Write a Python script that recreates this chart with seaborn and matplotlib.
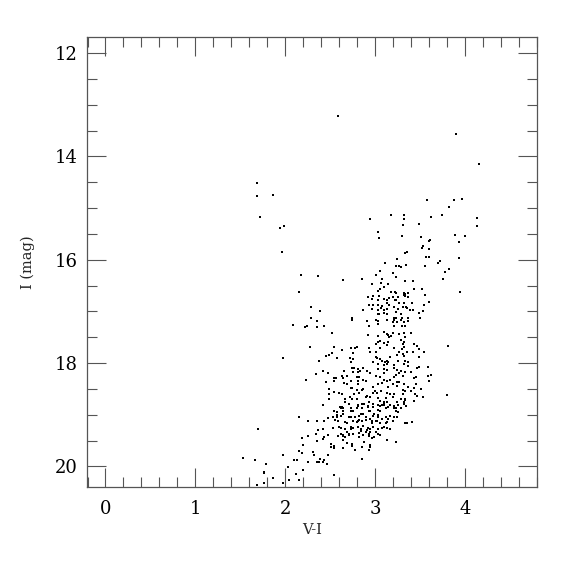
import matplotlib
matplotlib.use("Agg")
import matplotlib.pyplot as plt
from matplotlib.ticker import MultipleLocator
import numpy as np
import pandas as pd
import seaborn as sns

# Sparse stars: bright / blue side
vi_sparse = [2.59, 3.90, 4.16, 3.58, 3.88, 3.97, 3.83, 2.95, 3.18, 3.32, 3.32, 3.31, 3.49, 3.62, 3.75, 4.14, 4.14,
             1.69, 1.69, 1.87, 1.72, 1.94, 1.99,
             1.96, 2.18, 2.37, 2.64, 2.15, 2.29, 2.39, 2.29, 2.75]
i_sparse = [13.21, 13.56, 14.15, 14.84, 14.85, 14.83, 14.98, 15.21, 15.13, 15.13, 15.21, 15.33, 15.31, 15.18, 15.14, 15.19, 15.35,
            14.52, 14.77, 14.75, 15.17, 15.38, 15.35,
            15.85, 16.29, 16.31, 16.40, 16.62, 16.92, 17.00, 17.13, 17.13]

# Upper giant branch
vi_upper = [3.04, 3.05, 3.30, 3.51, 3.89, 4.00, 3.61, 3.60, 3.53, 3.52, 3.94, 3.60, 3.33, 3.36, 3.57, 3.60, 3.94, 3.25,
            3.11, 3.72, 3.70, 3.23, 3.27, 3.29, 3.35, 3.56, 3.06, 3.20, 3.83, 3.78, 3.01, 3.24, 2.86, 3.08, 3.33, 3.42,
            3.76, 2.97, 3.07, 3.10, 3.15, 3.06, 3.43, 3.52, 3.95, 3.03, 3.18, 3.22, 3.24, 3.32, 3.34, 3.37, 2.92, 2.98,
            3.05, 3.56, 3.20, 3.26, 3.32, 3.34, 3.37, 2.97, 3.04, 3.10, 3.13, 3.16, 3.22, 3.24, 3.13, 3.27, 3.32, 3.41,
            3.60, 2.93, 2.98, 3.03, 3.08, 3.16, 3.21, 3.31, 3.35, 3.55, 2.87, 2.97, 3.03, 3.07, 3.10, 3.14, 3.26, 3.36,
            3.39, 3.42, 3.53, 3.03, 3.05, 3.10, 3.14, 3.24, 3.29, 3.49, 3.21, 3.24, 3.30, 3.37, 3.50]
i_upper = [15.46, 15.58, 15.55, 15.57, 15.53, 15.55, 15.62, 15.63, 15.73, 15.77, 15.66, 15.79, 15.87, 15.85, 15.94, 15.94, 15.96, 15.98,
           16.06, 16.02, 16.06, 16.12, 16.13, 16.15, 16.10, 16.13, 16.21, 16.25, 16.19, 16.23, 16.29, 16.33, 16.37, 16.37, 16.41, 16.42,
           16.38, 16.48, 16.46, 16.52, 16.48, 16.56, 16.56, 16.56, 16.62, 16.60, 16.63, 16.63, 16.65, 16.65, 16.67, 16.65, 16.73, 16.71,
           16.71, 16.69, 16.73, 16.73, 16.69, 16.71, 16.73, 16.77, 16.79, 16.77, 16.79, 16.75, 16.79, 16.79, 16.83, 16.83, 16.83, 16.83,
           16.81, 16.88, 16.87, 16.88, 16.90, 16.88, 16.92, 16.92, 16.92, 16.88, 16.98, 16.96, 16.98, 16.94, 16.98, 16.96, 16.96, 16.94,
           16.98, 16.98, 17.00, 17.06, 17.06, 17.04, 17.06, 17.02, 17.06, 17.04, 17.13, 17.12, 17.13, 17.12, 17.13]

# Middle, left part
vi_midleft = [2.35, 2.75, 2.09, 2.22, 2.24, 2.36, 2.43, 2.52, 2.28, 2.54, 2.63, 2.73, 2.78, 2.80, 2.52, 2.49, 2.46, 2.76,
              1.98, 2.58, 2.72, 2.76, 2.38, 2.73, 2.75, 2.77, 2.81, 2.83, 2.42, 2.48, 2.66, 2.76, 2.81, 2.34, 2.54, 2.57,
              2.63, 2.65, 2.69, 2.80, 2.82, 2.23, 2.46, 2.54, 2.66, 2.73, 2.81, 2.69, 2.81, 2.73, 2.75, 2.49, 2.80, 2.55,
              2.60, 2.63, 2.49, 2.72, 2.77, 2.82, 2.49, 2.67, 2.67, 2.74, 2.80, 2.81, 2.42, 2.62, 2.64, 2.73, 2.80]
i_midleft = [17.19, 17.17, 17.27, 17.31, 17.29, 17.31, 17.29, 17.42, 17.69, 17.69, 17.75, 17.71, 17.71, 17.69, 17.81, 17.85, 17.87, 17.81,
             17.90, 17.90, 17.90, 17.92, 17.96, 17.98, 18.10, 18.10, 18.12, 18.15, 18.15, 18.19, 18.15, 18.17, 18.17, 18.21, 18.29, 18.29,
             18.25, 18.29, 18.25, 18.27, 18.27, 18.33, 18.37, 18.35, 18.38, 18.35, 18.35, 18.40, 18.40, 18.48, 18.48, 18.50, 18.52, 18.56,
             18.58, 18.60, 18.60, 18.65, 18.60, 18.58, 18.69, 18.69, 18.75, 18.69, 18.69, 18.81, 18.81, 18.87, 18.87, 18.87, 18.87]

# Middle, right part
vi_midright = [2.91, 3.01, 3.04, 3.03, 3.14, 3.20, 3.21, 3.25, 3.29, 3.32, 3.37, 3.30, 3.33, 3.21, 2.93, 2.92, 3.10, 3.14,
               3.15, 3.18, 3.20, 3.27, 3.32, 3.40, 3.03, 3.16, 3.29, 3.34, 3.03, 3.06, 3.10, 3.15, 3.31, 3.32, 3.01, 3.14,
               3.43, 3.47, 3.81, 2.93, 3.06, 3.21, 3.30, 3.32, 3.49, 2.95, 3.01, 3.27, 3.31, 3.36, 3.42, 3.55, 3.25, 3.01,
               3.02, 3.06, 3.17, 3.32, 3.49, 2.98, 3.08, 3.11, 3.14, 3.15, 3.26, 3.34, 3.37, 3.04, 3.10, 3.14, 3.21, 3.32,
               3.37, 3.59, 3.47, 3.49, 2.87, 2.91, 3.03, 3.10, 3.13, 3.21, 3.25, 3.29, 2.95, 3.10, 3.27, 3.34, 3.40, 3.62,
               3.59, 3.01, 3.06, 3.21, 3.23, 3.31, 3.43, 3.46, 2.87, 2.90, 3.10, 3.13, 3.17, 3.25, 3.60, 3.04, 3.08, 3.20,
               3.27, 3.32, 3.46, 2.98, 3.15, 3.25, 3.37, 3.43, 3.51, 2.86, 2.87, 3.00, 3.07, 3.31, 3.34, 3.40, 2.98, 3.02,
               3.14, 3.21, 3.31, 3.45, 3.80, 3.47, 3.53, 2.90, 2.95, 3.03, 3.12, 3.20, 3.29, 3.34, 3.44, 2.93, 3.06, 3.10,
               3.14, 3.25, 3.32, 2.86, 2.98, 3.04, 3.08, 3.17, 3.21, 3.26, 3.35, 2.92, 3.15, 3.23, 3.29, 3.12]
i_midright = [17.19, 17.17, 17.19, 17.25, 17.17, 17.21, 17.17, 17.21, 17.17, 17.21, 17.19, 17.29, 17.29, 17.29, 17.29, 17.46, 17.40, 17.44,
              17.46, 17.48, 17.42, 17.44, 17.42, 17.42, 17.48, 17.50, 17.56, 17.50, 17.60, 17.58, 17.62, 17.60, 17.63, 17.60, 17.63, 17.65,
              17.63, 17.67, 17.67, 17.71, 17.71, 17.71, 17.73, 17.69, 17.73, 17.79, 17.79, 17.79, 17.83, 17.79, 17.79, 17.79, 17.85, 17.88,
              17.90, 17.92, 17.88, 17.87, 17.88, 17.98, 17.96, 17.98, 17.96, 17.98, 17.96, 17.96, 17.98, 18.02, 18.04, 18.02, 18.04, 18.02,
              18.06, 18.08, 18.10, 18.08, 18.10, 18.15, 18.12, 18.12, 18.13, 18.10, 18.13, 18.15, 18.19, 18.19, 18.19, 18.17, 18.17, 18.23,
              18.25, 18.25, 18.27, 18.27, 18.23, 18.25, 18.29, 18.27, 18.33, 18.35, 18.33, 18.35, 18.33, 18.37, 18.35, 18.40, 18.38, 18.40,
              18.37, 18.40, 18.40, 18.46, 18.46, 18.44, 18.46, 18.48, 18.50, 18.52, 18.50, 18.54, 18.54, 18.52, 18.54, 18.54, 18.58, 18.58,
              18.58, 18.60, 18.60, 18.60, 18.62, 18.63, 18.65, 18.65, 18.65, 18.67, 18.67, 18.65, 18.69, 18.69, 18.73, 18.75, 18.73, 18.75,
              18.75, 18.75, 18.75, 18.79, 18.79, 18.81, 18.81, 18.81, 18.83, 18.81, 18.83, 18.85, 18.85, 18.87, 18.87, 18.88]

# Dense clump near the base of the branch
vi_clump = [2.65, 2.80, 2.93, 3.06, 3.21, 2.58, 2.71, 2.84, 2.99, 3.04, 3.12, 3.25, 2.56, 2.69, 2.80, 2.90, 2.97, 3.01,
            3.14, 3.34, 2.60, 2.73, 2.84, 2.91, 2.95, 3.10, 3.17, 2.62, 2.71, 2.82, 2.93, 2.99, 3.06, 2.64, 2.75, 2.88,
            2.95, 3.14, 2.71, 2.88, 3.10, 3.34, 2.67, 2.91, 3.17]
i_clump = [18.92, 18.88, 18.92, 18.92, 18.88, 19.01, 19.04, 18.98, 18.98, 19.00, 19.04, 19.04, 19.11, 19.17, 19.14, 19.11, 19.17, 19.13,
           19.14, 19.17, 19.24, 19.24, 19.27, 19.30, 19.27, 19.24, 19.27, 19.37, 19.40, 19.43, 19.37, 19.43, 19.40, 19.49, 19.56, 19.53,
           19.59, 19.49, 18.79, 18.79, 18.77, 18.72, 18.69, 18.63, 18.60]

# Lower, left part
vi_lowleft = [2.42, 2.61, 2.63, 2.73, 2.81, 2.54, 2.58, 2.73, 2.76, 2.62, 2.65, 2.73, 2.78, 2.82, 2.48, 2.53, 2.58, 2.16,
              2.25, 2.36, 2.43, 2.59, 2.67, 2.76, 2.81, 2.82, 1.70, 2.42, 2.53, 2.62, 2.67, 2.73, 2.76, 2.81, 2.37, 2.34,
              2.69, 2.71, 2.76, 2.82, 2.26, 2.48, 2.59, 2.64, 2.65, 2.67, 2.43, 2.19, 2.36, 2.42, 2.51, 2.54, 2.69, 2.75,
              2.20, 2.78, 2.64, 2.51, 2.54, 2.16, 2.19, 2.31, 2.32, 2.48, 1.98, 2.39, 2.43, 2.10, 2.13, 2.36, 2.38, 2.42,
              2.47, 2.25, 1.53, 1.67, 1.79, 2.03, 2.20, 1.77, 1.76, 2.12, 2.54, 1.87, 2.04, 2.15, 1.76, 1.98, 1.69]
i_lowleft = [18.81, 18.85, 18.85, 18.87, 18.83, 18.92, 18.94, 18.92, 18.92, 19.02, 18.98, 19.04, 19.04, 19.02, 19.06, 19.04, 19.04, 19.04,
             19.12, 19.13, 19.12, 19.13, 19.15, 19.12, 19.13, 19.10, 19.27, 19.27, 19.25, 19.25, 19.27, 19.27, 19.25, 19.23, 19.29, 19.37,
             19.33, 19.38, 19.37, 19.35, 19.42, 19.40, 19.42, 19.40, 19.42, 19.44, 19.44, 19.46, 19.50, 19.48, 19.56, 19.60, 19.54, 19.60,
             19.58, 19.69, 19.65, 19.63, 19.65, 19.71, 19.75, 19.73, 19.79, 19.79, 19.79, 19.85, 19.88, 19.88, 19.88, 19.92, 19.92, 19.92,
             19.96, 19.92, 19.83, 19.88, 19.96, 20.02, 20.08, 20.10, 20.13, 20.15, 20.17, 20.23, 20.27, 20.27, 20.33, 20.33, 20.37]

# Lower, right part
vi_lowright = [2.86, 2.92, 2.87, 2.95, 2.98, 3.03, 3.06, 3.10, 3.21, 3.23, 3.26, 3.32, 2.90, 2.95, 2.98, 3.04, 3.08, 3.12,
               3.15, 3.17, 3.21, 2.86, 2.97, 3.02, 3.06, 3.12, 3.20, 2.87, 2.92, 2.98, 3.03, 3.08, 3.14, 2.84, 2.90, 2.95,
               3.01, 3.04, 2.87, 2.93, 2.97, 3.36, 3.41, 3.23, 2.86, 2.95, 2.93, 2.86]
i_lowright = [18.88, 18.83, 18.98, 18.92, 18.85, 18.90, 18.83, 18.81, 18.85, 18.92, 18.94, 18.79, 19.04, 19.08, 19.02, 19.04, 19.08, 19.04,
              19.08, 19.02, 19.04, 19.13, 19.13, 19.12, 19.17, 19.17, 19.12, 19.21, 19.25, 19.23, 19.27, 19.25, 19.25, 19.31, 19.33, 19.33,
              19.33, 19.38, 19.40, 19.42, 19.46, 19.17, 19.15, 19.52, 19.63, 19.62, 19.69, 19.85]

x_ticks = [0, 1, 2, 3, 4]
y_ticks = [12, 14, 16, 18, 20]

df = pd.DataFrame({
    "V-I": vi_sparse + vi_upper + vi_midleft + vi_midright + vi_clump + vi_lowleft + vi_lowright,
    "I": i_sparse + i_upper + i_midleft + i_midright + i_clump + i_lowleft + i_lowright,
})

sns.set_style("ticks")
plt.rcParams["font.family"] = ["DejaVu Serif"]

fig = plt.figure(figsize=(5.75, 5.75), dpi=100)
ax = fig.add_axes([87 / 575, 1 - 487 / 575, 450 / 575, 450 / 575])

sns.scatterplot(data=df, x="V-I", y="I", ax=ax, color="black", marker="s", s=3,
                linewidth=0, legend=False)

ax.set_xlim(-0.206, 4.805)
ax.set_ylim(20.4, 11.69)
ax.set_xticks(x_ticks)
ax.set_yticks(y_ticks)
ax.xaxis.set_minor_locator(MultipleLocator(0.2))
ax.yaxis.set_minor_locator(MultipleLocator(0.5))

edge = "#555555"
for sp in ax.spines.values():
    sp.set_color(edge)
    sp.set_linewidth(0.9)
ax.tick_params(which="both", direction="in", top=True, right=True, color=edge, width=0.8)
ax.tick_params(which="major", length=13.5, labelsize=13, labelcolor="black")
ax.tick_params(which="minor", length=7)
ax.tick_params(axis="x", which="major", pad=9)
ax.tick_params(axis="y", which="major", pad=7)

ax.set_xlabel("V-I", fontsize=10.5, labelpad=4)
ax.set_ylabel("I (mag)", fontsize=10.5, labelpad=14)

fig.savefig("out.png", dpi=100)
